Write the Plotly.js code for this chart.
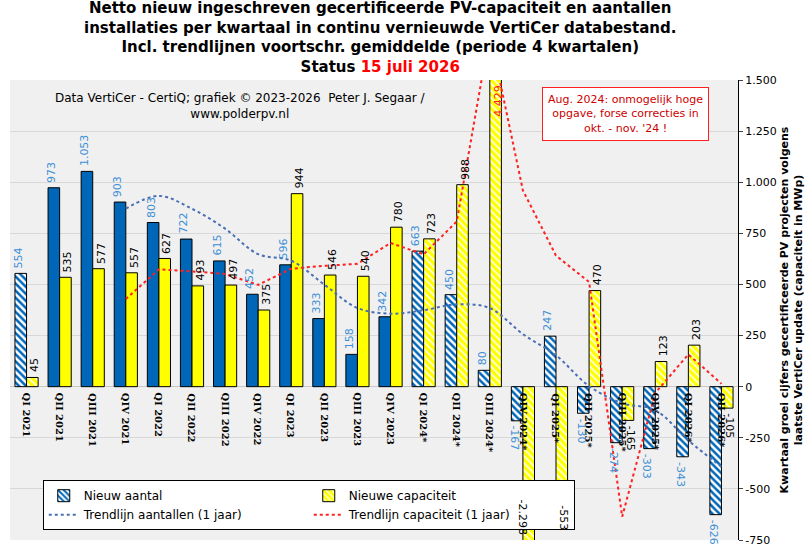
<!DOCTYPE html>
<html><head><meta charset="utf-8">
<script src="https://cdn.plot.ly/plotly-3.0.1.min.js"></script>
<style>body{margin:0}</style></head>
<body><div id="chart" style="width:805px;height:553px"></div>
<script>
// categories and values
const quarters = ['QI 2021','QII 2021','QIII 2021','QIV 2021','QI 2022','QII 2022','QIII 2022','QIV 2022',
  'QI 2023','QII 2023','QIII 2023','QIV 2023','QI 2024*','QII 2024*','QIII 2024*','QIV 2024*',
  'QI 2025*','QII 2025*','QIII 2025*','QIV 2025*','QI 2026*','QII 2026*'];
const aantal = [554,973,1053,903,803,722,615,452,596,333,158,342,663,450,80,-167,247,-130,-274,-303,-343,-626];
const capaciteit = [45,535,577,557,627,493,497,375,944,546,540,780,723,988,4429,-2298,-553,470,-165,123,203,-105];
const voorlopig = [1,0,0,0,0,0,0,0,0,0,0,0,1,1,1,1,1,1,1,1,1,1];
const trendAantal = [null,null,null,871,933,870,773,648,616,499,385,357,374,403,384,257,153,3,-81,-115,-263,-392];
const trendCap = [null,null,null,429,574,564,551,498,577,591,601,703,647,808,1730,960,641,512,-636,-31,158,14];

const fmt = v => (v < 0 ? '-' : '') + Math.abs(v).toLocaleString('de-DE');
const blue = '#0066b8', yellow = '#ffff00', labBlue = '#3d8fd6';
const font = 'DejaVu Sans, Verdana, sans-serif';
const yMin = -750, yMax = 1500;

function pattern(col, sol) {
  return {shape: voorlopig.map(h => h ? '\\' : ''), fgcolor: col, bgcolor: 'white', size: 5, solidity: sol};
}

const data = [
  {type: 'bar', name: 'Nieuw aantal', x: quarters, y: aantal,
   marker: {color: blue, line: {color: 'black', width: 1}, pattern: pattern(blue, 0.5)}},
  {type: 'bar', name: 'Nieuwe capaciteit', x: quarters, y: capaciteit,
   marker: {color: yellow, line: {color: 'black', width: 1}, pattern: pattern(yellow, 0.7)}},
  {type: 'scatter', mode: 'lines', name: 'Trendlijn aantallen (1 jaar)', x: quarters, y: trendAantal,
   line: {color: '#4a6fb5', dash: 'dot', width: 2, shape: 'spline'}},
  {type: 'scatter', mode: 'lines', name: 'Trendlijn capaciteit (1 jaar)', x: quarters, y: trendCap,
   line: {color: '#ff2020', dash: 'dot', width: 2}}
];

const ann = [];
quarters.forEach((q, i) => {
  ann.push({x: q, y: 0, text: '<b>' + q + '</b>', textangle: 90, showarrow: false, yanchor: 'top', yshift: -4,
    font: {family: 'DejaVu Serif, serif', size: 10, color: 'black'}});
  [[aantal[i], -8, labBlue], [capaciteit[i], 8, 'black']].forEach(([v, xs, c]) => {
    const pos = v >= 0;
    let y = v, col = c, anchor = pos ? 'bottom' : 'top';
    if (v > yMax) { y = yMax; col = '#ff2020'; anchor = 'top'; }
    if (v < yMin) { y = yMin; anchor = 'bottom'; xs = 0; }
    ann.push({x: q, y: y, text: fmt(v), textangle: pos ? -90 : 90, showarrow: false,
      yanchor: anchor, xshift: xs, yshift: anchor === 'bottom' ? 3 : -3,
      font: {family: font, size: 11, color: col}});
  });
});
// chart title as annotation above the plot
ann.push({xref: 'paper', yref: 'paper', x: 0.508, xanchor: 'center', y: 1, yanchor: 'bottom', yshift: 2, showarrow: false,
  text: '<b>Netto nieuw ingeschreven gecertificeerde PV-capaciteit en aantallen<br>installaties per kwartaal in continu vernieuwde VertiCer databestand.<br>Incl. trendlijnen voortschr. gemiddelde (periode 4 kwartalen)<br>Status <span style="color:#ff0000">15 juli 2026</span></b>',
  font: {family: font, size: 15, color: 'black'}});
ann.push({xref: 'paper', yref: 'paper', x: 0.316, xanchor: 'center', y: 0.98, yanchor: 'top', showarrow: false,
  text: 'Data VertiCer - CertiQ; grafiek © 2023-2026  Peter J. Segaar /<br>www.polderpv.nl',
  font: {family: font, size: 12, color: 'black'}});
ann.push({xref: 'paper', yref: 'paper', x: 0.96, y: 0.985, xanchor: 'right', yanchor: 'top', showarrow: false,
  text: "Aug. 2024: onmogelijk hoge<br>opgave, forse correcties in<br>okt. - nov. '24 !", align: 'center',
  bgcolor: 'white', bordercolor: '#ff2020', borderwidth: 1, borderpad: 5,
  font: {family: font, size: 11, color: '#cc0000'}});

const layout = {
  width: 805, height: 553,
  margin: {l: 10, r: 67, t: 80, b: 13},
  paper_bgcolor: 'white', plot_bgcolor: '#f0f0f0',
  font: {family: font, size: 11, color: 'black'},
  barmode: 'group', bargap: 0.3, bargroupgap: 0,
  xaxis: {showticklabels: false, showgrid: false, zeroline: false, ticks: ''},
  yaxis: {side: 'right', range: [yMin, yMax], tickvals: [-750,-500,-250,0,250,500,750,1000,1250,1500],
    ticktext: [-750,-500,-250,0,250,500,750,1000,1250,1500].map(fmt),
    gridcolor: '#d8d8d8', zeroline: true, zerolinecolor: '#c8c8c8', showline: true, linecolor: 'black',
    ticks: 'outside', ticklen: 4, tickfont: {size: 11},
    title: {text: '<b>Kwartaal groei cijfers gecertificeerde PV projecten volgens<br>laatste VertiCer update (capaciteit in MWp)</b>',
      font: {size: 11}, standoff: 10}},
  legend: {orientation: 'h', x: 0.045, y: 0.13, xanchor: 'left', yanchor: 'top', entrywidth: 220,
    bgcolor: 'white', bordercolor: 'black', borderwidth: 1, font: {size: 12}},
  annotations: ann
};
Plotly.newPlot('chart', data, layout, {displayModeBar: false});
</script></body></html>
